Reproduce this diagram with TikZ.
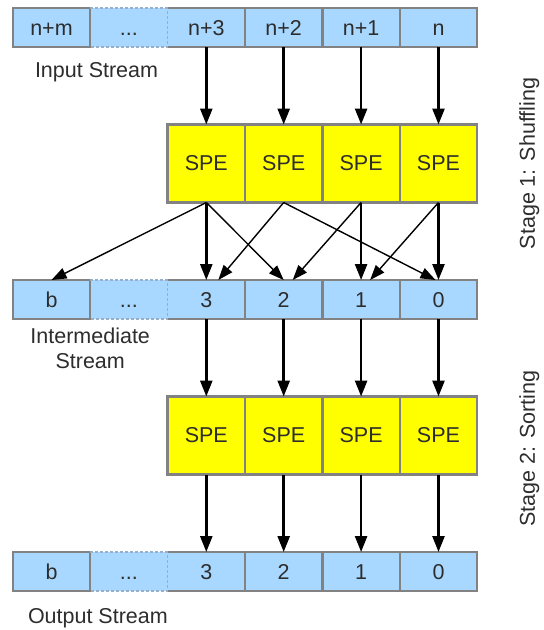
\documentclass[tikz,border=0pt]{standalone}
\usepackage{fontspec}
\setmainfont{Liberation Sans}
\usetikzlibrary{arrows.meta, positioning, calc}
\definecolor{cCell}{RGB}{168,216,255}
\definecolor{cSpe}{RGB}{255,255,0}
\definecolor{cFrame}{RGB}{130,130,130}
\definecolor{cGap}{RGB}{150,175,205}
\definecolor{cInk}{RGB}{45,45,45}
\tikzset{
	cell/.style   ={rectangle, draw=cFrame, line width=2.5pt, fill=cCell, minimum width=77.4pt, minimum height=39pt, inner sep=0pt, outer sep=0pt, text=cInk, text height=15.4pt, text depth=0pt},
	gapcell/.style={cell, draw=none},
	gapcover/.style={draw=cCell, line width=2.6pt, shorten <=1.3pt, shorten >=1.3pt},
	gapline/.style={draw=cGap, line width=1.3pt, dash pattern=on 3pt off 2pt},
	spe/.style    ={rectangle, draw=cFrame, line width=2.5pt, fill=cSpe, minimum width=77.4pt, minimum height=78pt, inner sep=0pt, outer sep=0pt, text=cInk},
	lbl/.style    ={text=cInk, align=center, inner sep=0pt},
	feed/.style   ={-{Triangle[length=16pt, width=12pt]}, line width=2.6pt},
	swap/.style   ={-{Triangle[length=15pt, width=11pt]}, line width=1.4pt},
}
\begin{document}
\begin{tikzpicture}[x=1pt, y=-1pt, node distance=77.5pt, every node/.style={font=\fontsize{21.5}{25}\selectfont}]
	\useasboundingbox (0,0) rectangle (544,630);
	% input stream
	\node[cell] (in3) at (206.3,27.5) {n+3};
	\node[gapcell, left=0pt of in3] (indots) {...};
	\node[cell, left=0pt of indots] (inm) {n+m};
	\node[cell, right=0pt of in3] (in2) {n+2};
	\node[cell, right=0pt of in2] (in1) {n+1};
	\node[cell, right=0pt of in1] (in0) {n};
	\draw[gapcover] (indots.north east) -- (indots.south east);
	\draw[gapline] (indots.north west) -- (indots.north east) -- (indots.south east) -- (indots.south west);
	\node[lbl, anchor=base west] (inlbl) at ($(inm.south west)+(22,30)$) {Input Stream};
	% stage 1
	\node[spe, below=of in3] (sa1) {SPE};
	\node[spe, right=0pt of sa1] (sa2) {SPE};
	\node[spe, right=0pt of sa2] (sa3) {SPE};
	\node[spe, right=0pt of sa3] (sa4) {SPE};
	% intermediate stream
	\node[cell, below=of sa1] (m3) {3};
	\node[gapcell, left=0pt of m3] (mdots) {...};
	\node[cell, left=0pt of mdots] (mb) {b};
	\node[cell, right=0pt of m3] (m2) {2};
	\node[cell, right=0pt of m2] (m1) {1};
	\node[cell, right=0pt of m1] (m0) {0};
	\draw[gapcover] (mdots.north east) -- (mdots.south east);
	\draw[gapline] (mdots.north west) -- (mdots.north east) -- (mdots.south east) -- (mdots.south west);
	\node[lbl] (mlbl) at ($(mb.south east)+(0,29)$) {Intermediate\\Stream};
	% stage 2
	\node[spe, below=of m3] (sb1) {SPE};
	\node[spe, right=0pt of sb1] (sb2) {SPE};
	\node[spe, right=0pt of sb2] (sb3) {SPE};
	\node[spe, right=0pt of sb3] (sb4) {SPE};
	% output stream
	\node[cell, below=of sb1] (o3) {3};
	\node[gapcell, left=0pt of o3] (odots) {...};
	\node[cell, left=0pt of odots] (ob) {b};
	\node[cell, right=0pt of o3] (o2) {2};
	\node[cell, right=0pt of o2] (o1) {1};
	\node[cell, right=0pt of o1] (o0) {0};
	\draw[gapcover] (odots.north east) -- (odots.south east);
	\draw[gapline] (odots.north west) -- (odots.north east) -- (odots.south east) -- (odots.south west);
	\node[lbl, anchor=base west] (olbl) at ($(ob.south west)+(15,32.5)$) {Output Stream};
	% stage names
	\node[lbl, rotate=90] (st1) at ($(sa4.east)+(52,0)$) {Stage 1: Shuffling};
	\node[lbl, rotate=90] (st2) at ($(sb4.east)+(52,13)$) {Stage 2: Sorting};
	% arrows
	\draw[feed] (in3) -- (sa1); \draw[feed] (in2) -- (sa2); \draw[feed] (in1) -- (sa3); \draw[feed] (in0) -- (sa4);
	\draw[swap] (sa1.south) -- (mb.north);
	\draw[swap] (sa1.south) -- (m2.north);
	\draw[swap] (sa2.south) -- ([xshift=12pt]m3.north);
	\draw[swap] (sa2.south) -- ([xshift=-3pt]m0.north);
	\draw[swap] (sa3.south) -- ([xshift=9pt]m2.north);
	\draw[swap] (sa4.south) -- ([xshift=9pt]m1.north);
	\draw[feed] (sa1) -- (m3); \draw[feed] (sa3) -- (m1); \draw[feed] (sa4) -- (m0);
	\draw[feed] (m3) -- (sb1); \draw[feed] (m2) -- (sb2); \draw[feed] (m1) -- (sb3); \draw[feed] (m0) -- (sb4);
	\draw[feed] (sb1) -- (o3); \draw[feed] (sb2) -- (o2); \draw[feed] (sb3) -- (o1); \draw[feed] (sb4) -- (o0);
\end{tikzpicture}
\end{document}
